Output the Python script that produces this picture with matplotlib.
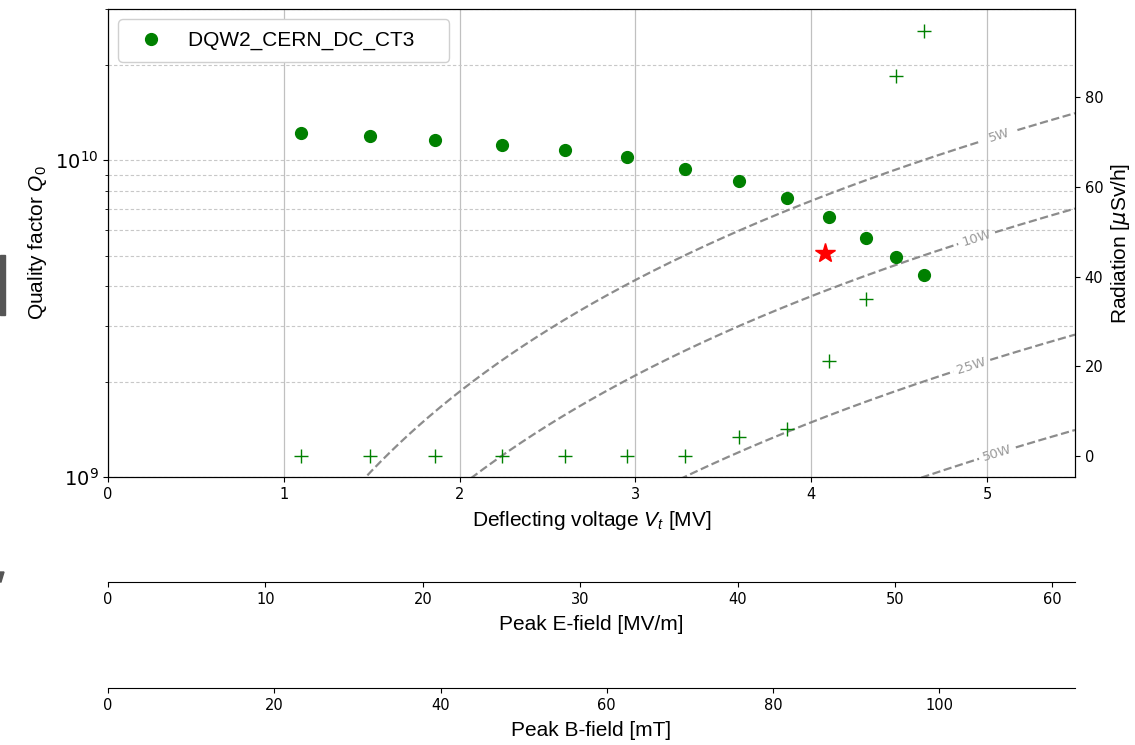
import numpy as np
import matplotlib
matplotlib.use("Agg")
import matplotlib.pyplot as plt
from matplotlib.patches import Rectangle, Polygon
from matplotlib.ticker import MultipleLocator

# ---------------- data ----------------
vt = [1.10, 1.49, 1.86, 2.24, 2.60, 2.95, 3.28, 3.59, 3.86, 4.10, 4.31, 4.48, 4.64]
q0 = [1.22e10, 1.19e10, 1.16e10, 1.12e10, 1.08e10, 1.02e10, 9.4e9, 8.6e9,
      7.6e9, 6.6e9, 5.7e9, 4.94e9, 4.34e9]
radiation = [0, 0, 0, 0, 0, 0, 0, 4.2, 5.9, 21.2, 35.0, 84.8, 94.9]
star_vt = [4.08]
star_q0 = [5.1e9]
powers = [5, 10, 25, 50]
power_labels = ["5W", "10W", "25W", "50W"]
label_vt = [5.07, 4.94, 4.91, 5.06]
r_over_q = 430.0      # Ohm
ep_per_vt = 11.17     # (MV/m)/MV
bp_per_vt = 21.15     # mT/MV
legend_label = "DQW2_CERN_DC_CT3"
vt_max = 5.5

LAB = "Liberation Sans"
plt.rcParams["mathtext.it"] = "Liberation Sans:italic"
plt.rcParams["mathtext.rm"] = "Liberation Sans"
plt.rcParams["mathtext.bf"] = "Liberation Sans:bold"

fig = plt.figure(figsize=(11.35, 7.45), dpi=100)
L, R = 108 / 1135, 1075 / 1135
W = R - L
B, T = 1 - 477 / 745, 1 - 9 / 745
ax = fig.add_axes([L, B, W, T - B])
ax2 = ax.twinx()

ax.set_xlim(0, vt_max)
ax.set_yscale("log")
ax.set_ylim(1e9, 3e10)

ax.grid(True, axis="x", color="#c0c0c0", lw=0.9)
ax.grid(True, which="both", axis="y", color="#c8c8c8", lw=0.8, ls=(0, (3, 2)))
ax.set_axisbelow(True)

ax.plot(vt, q0, "o", color="green", ms=8.5, label=legend_label + "\u00a0" * 4, zorder=4)
ax.plot(star_vt, star_q0, "*", color="red", ms=15, zorder=5)

# constant-power curves
v = np.linspace(0.05, vt_max, 600)
for P, lab, v0 in zip(powers, power_labels, label_vt):
    q = (v * 1e6) ** 2 / (r_over_q * P)
    qm = q.copy()
    qm[np.abs(v - v0) < 0.1] = np.nan
    ax.plot(v, qm, "--", color="grey", lw=1.6, alpha=0.9, zorder=2)
    f = lambda x: (x * 1e6) ** 2 / (r_over_q * P)
    p1 = ax.transData.transform((v0 - 0.05, f(v0 - 0.05)))
    p2 = ax.transData.transform((v0 + 0.05, f(v0 + 0.05)))
    ang = np.degrees(np.arctan2(p2[1] - p1[1], p2[0] - p1[0]))
    ax.text(v0, f(v0), lab, rotation=ang, rotation_mode="anchor",
            ha="center", va="center", fontsize=9.5, color="#999999", zorder=3)

ax2.plot(vt, radiation, "+", color="green", ms=10.5, mew=1.0)
ax2.set_ylim(-4.75, 99.75)
ax2.yaxis.set_major_locator(MultipleLocator(20))

ax.set_xlabel("Deflecting voltage $V_t$ [MV]", fontsize=15, family=LAB,
              math_fontfamily="custom", labelpad=5)
ax.set_ylabel("Quality factor $Q_0$", fontsize=15, family=LAB,
              math_fontfamily="custom")
ax2.set_ylabel("Radiation [$\\mu$Sv/h]", fontsize=15, family=LAB)
ax.tick_params(labelsize=10.5)
ax.tick_params(axis="y", which="major", labelsize=14)
ax2.tick_params(labelsize=10.5)

leg = ax.legend(loc="upper left", prop={"family": LAB, "size": 15},
                framealpha=1, edgecolor="#d0d0d0", borderpad=0.55)

# secondary scales
for ypx, ratio, label, step in [(582, ep_per_vt, "Peak E-field [MV/m]", 10),
                                (688, bp_per_vt, "Peak B-field [mT]", 20)]:
    a = fig.add_axes([L, 1 - ypx / 745, W, 1e-4])
    a.set_xlim(0, vt_max * ratio)
    a.xaxis.set_major_locator(MultipleLocator(step))
    a.yaxis.set_visible(False)
    a.patch.set_visible(False)
    for s in ["top", "left", "right"]:
        a.spines[s].set_visible(False)
    a.tick_params(labelsize=10.5)
    a.set_xlabel(label, fontsize=15, family=LAB, labelpad=6)

# screenshot edge artifacts
fig.patches.append(Rectangle((0, 1 - 315 / 745), 5 / 1135, 60 / 745,
                             transform=fig.transFigure, color="#555555"))
fig.patches.append(Polygon([(0, 1 - 572 / 745), (4 / 1135, 1 - 572 / 745),
                            (1 / 1135, 1 - 582 / 745), (0, 1 - 582 / 745)],
                           closed=True, transform=fig.transFigure, color="#555555"))

fig.savefig("out.png", dpi=100)
